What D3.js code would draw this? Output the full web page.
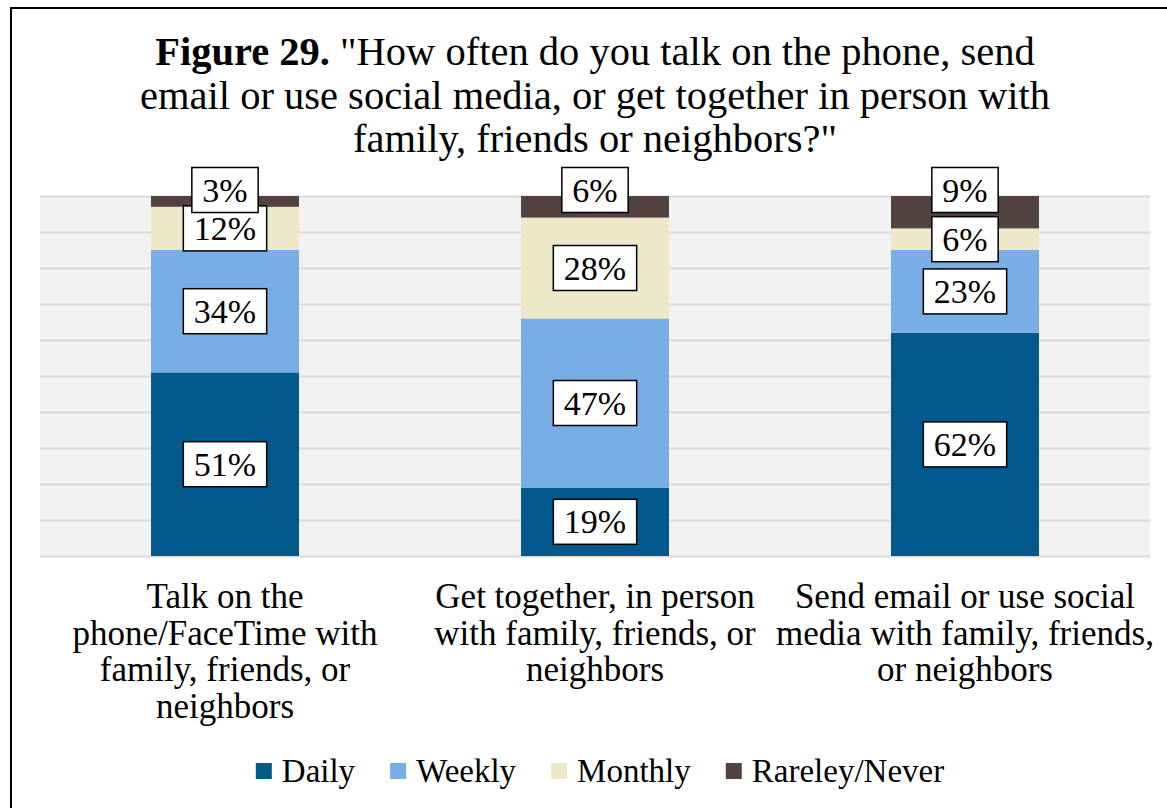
<!DOCTYPE html>
<html>
<head>
<meta charset="utf-8">
<script src="https://cdn.jsdelivr.net/npm/d3@7"></script>
<style>
  body { margin: 0; background: #fff; }
  text { font-family: "Liberation Serif", serif; fill: #000; }
</style>
</head>
<body>
<script>
// data
var categories = [
    ["Talk on the", "phone/FaceTime with", "family, friends, or", "neighbors"],
    ["Get together, in person", "with family, friends, or", "neighbors"],
    ["Send email or use social", "media with family, friends,", "or neighbors"]
];
var seriesNames = ["Daily", "Weekly", "Monthly", "Rareley/Never"];
var daily   = [51, 19, 62];
var weekly  = [34, 47, 23];
var monthly = [12, 28, 6];
var rarely  = [3, 6, 9];
var colors = ["#02598c", "#79ade6", "#eee8ca", "#52423f"];

// set up variables
var width = 1167,
    height = 808,
    plot = {left: 40, right: 1150, top: 196, bottom: 556},
    boxH = 45;

var svg = d3.select("body")
    .append("svg")
        .attr("width", width)
        .attr("height", height);

// frame
svg.append("rect")
    .attr("x", 11).attr("y", 8)
    .attr("width", 1300).attr("height", 1000)
    .attr("fill", "none")
    .attr("stroke", "#000")
    .attr("stroke-width", 2);

// title
var title = svg.append("text")
    .attr("text-anchor", "middle")
    .style("font-size", "40.5px");
var t1 = title.append("tspan").attr("x", 595).attr("y", 65);
t1.append("tspan").style("font-weight", "bold").text("Figure 29.");
t1.append("tspan").text(" \"How often do you talk on the phone, send");
title.append("tspan").attr("x", 595).attr("y", 109)
    .text("email or use social media, or get together in person with");
title.append("tspan").attr("x", 595).attr("y", 152)
    .text("family, friends or neighbors?\"");

// scales
var x = d3.scaleBand()
    .domain(d3.range(categories.length))
    .range([plot.left, plot.right])
    .paddingInner(0.6)
    .paddingOuter(0.3);

var y = d3.scaleLinear()
    .domain([0, 100])
    .range([plot.bottom, plot.top]);

// plot background and gridlines
svg.append("rect")
    .attr("x", plot.left).attr("y", plot.top)
    .attr("width", plot.right - plot.left)
    .attr("height", plot.bottom - plot.top)
    .attr("fill", "#f2f2f2");

svg.append("g")
    .attr("transform", "translate(" + plot.left + ",0)")
    .call(d3.axisLeft(y).ticks(10).tickSize(-(plot.right - plot.left)).tickFormat(""))
    .call(function(g) { g.select(".domain").remove(); })
    .selectAll("line")
        .attr("stroke", "#d9d9d9")
        .attr("stroke-width", 2);

// stack the data
var rows = categories.map(function(c, i) {
    return {Daily: daily[i], Weekly: weekly[i], Monthly: monthly[i], "Rareley/Never": rarely[i]};
});
var stacked = d3.stack().keys(seriesNames)(rows);

// bars
svg.append("g")
    .selectAll("g")
    .data(stacked)
    .enter()
    .append("g")
        .attr("fill", function(d, i) { return colors[i]; })
    .selectAll("rect")
    .data(function(d) { return d; })
    .enter()
    .append("rect")
        .attr("x", function(d, i) { return x(i); })
        .attr("y", function(d) { return y(d[1]); })
        .attr("width", x.bandwidth())
        .attr("height", function(d) { return y(d[0]) - y(d[1]); });

// data labels
var labelG = svg.append("g");
stacked.forEach(function(layer, li) {
    layer.forEach(function(d, i) {
        var v = d[1] - d[0];
        var cy = (y(d[0]) + y(d[1])) / 2;
        // small top segment: Excel pushes its label up
        if (li === stacked.length - 1 && (y(d[0]) - y(d[1])) < boxH) cy = y(100) - 6;
        var cx = x(i) + x.bandwidth() / 2;
        var g = labelG.append("g");
        var rect = g.append("rect");
        var txt = g.append("text")
            .attr("x", cx)
            .attr("y", cy + 11.5)
            .attr("text-anchor", "middle")
            .style("font-size", "34px")
            .text(v + "%");
        var w = txt.node().getComputedTextLength() + 21;
        rect.attr("x", cx - w / 2).attr("y", cy - boxH / 2)
            .attr("width", w).attr("height", boxH)
            .attr("fill", "#fff")
            .attr("stroke", "#000")
            .attr("stroke-width", 1.5);
    });
});

// category labels
categories.forEach(function(lines, i) {
    var t = svg.append("text")
        .attr("text-anchor", "middle")
        .style("font-size", "35px");
    lines.forEach(function(line, j) {
        t.append("tspan")
            .attr("x", x(i) + x.bandwidth() / 2)
            .attr("y", 608 + j * 36.7)
            .text(line);
    });
});

// legend
var legend = svg.append("g");
var lx = 0;
seriesNames.forEach(function(name, i) {
    var item = legend.append("g").attr("transform", "translate(" + lx + ",0)");
    item.append("rect")
        .attr("x", 0).attr("y", 763)
        .attr("width", 16).attr("height", 16)
        .attr("fill", colors[i]);
    var t = item.append("text")
        .attr("x", 26).attr("y", 782)
        .style("font-size", "33px")
        .text(name);
    lx += 26 + t.node().getComputedTextLength() + 35;
});
var legendW = lx - 35;
legend.attr("transform", "translate(" + (600 - legendW / 2) + ",0)");
</script>
</body>
</html>
